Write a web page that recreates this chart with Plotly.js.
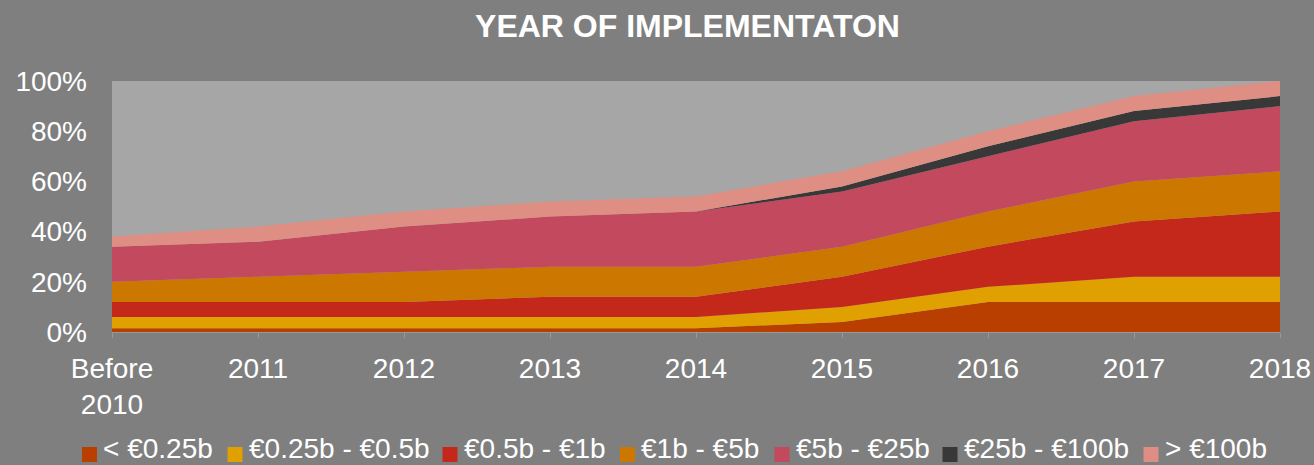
<!DOCTYPE html>
<html>
<head>
<meta charset="utf-8">
<script src="https://cdn.plot.ly/plotly-3.0.1.min.js"></script>
<style>html,body{margin:0;padding:0;background:#7f7f7f;}#chart{width:1314px;height:465px;}</style>
</head>
<body>
<div id="chart"></div>
<script>
var categories = ["Before<br>2010", "2011", "2012", "2013", "2014", "2015", "2016", "2017", "2018"];
var seriesNames = ["< €0.25b", "€0.25b - €0.5b", "€0.5b - €1b", "€1b - €5b", "€5b - €25b", "€25b - €100b", "> €100b"];
var s1 = [1.5, 1.5, 1.5, 1.5, 1.5, 4, 12, 12, 12];
var s2 = [4.5, 4.5, 4.5, 4.5, 4.5, 6, 6, 10, 10];
var s3 = [6, 6, 6, 8, 8, 12, 16, 22, 26];
var s4 = [8, 10, 12, 12, 12, 12, 14, 16, 16];
var s5 = [14, 14, 18, 20, 22, 22, 22, 24, 26];
var s6 = [0, 0, 0, 0, 0, 2, 4, 4, 4];
var s7 = [4, 6, 6, 6, 6, 6, 6, 6, 6];
var yTickVals = [0, 20, 40, 60, 80, 100];
var yTickText = ["0%", "20%", "40%", "60%", "80%", "100%"];

var colors = ["#b83f00", "#e0a000", "#c4281b", "#cc7700", "#c2495e", "#383838", "#df8e84"];
var series = [s1, s2, s3, s4, s5, s6, s7];
var xIdx = categories.map(function(_, i){ return i; });

// plot area geometry in pixels (for the hand-laid legend)
var PL = 112, PR = 1280, PT = 81, PB = 332;
function px2paperX(px){ return (px - PL) / (PR - PL); }
function px2paperY(py){ return (PB - py) / (PB - PT); }
var legendLeft = [82, 227.5, 442.5, 620, 774.5, 942.5, 1143.5];
var legendBoxSize = 15, legendBoxTop = 447, legendTextGap = 20, legendTextBottom = 465;

var traces = [];
series.forEach(function(s, k){
  traces.push({
    x: xIdx, y: s, type: "scatter", mode: "none", stackgroup: "one",
    fillcolor: colors[k], line: {width: 0}, showlegend: false, hoverinfo: "skip",
    name: seriesNames[k]
  });
});

var shapes = [], annotations = [];
seriesNames.forEach(function(n, k){
  shapes.push({
    type: "rect", xref: "paper", yref: "paper", layer: "above",
    x0: px2paperX(legendLeft[k]), x1: px2paperX(legendLeft[k] + legendBoxSize),
    y0: px2paperY(legendBoxTop + legendBoxSize), y1: px2paperY(legendBoxTop),
    fillcolor: colors[k], line: {width: 0}
  });
  annotations.push({
    xref: "paper", yref: "paper", x: px2paperX(legendLeft[k] + legendTextGap), y: px2paperY(legendTextBottom),
    xanchor: "left", yanchor: "bottom", showarrow: false, text: n, borderpad: 0,
    font: {size: 28, color: "#ffffff", family: "Liberation Sans, Arial, sans-serif"}
  });
});

var layout = {
  width: 1314, height: 465,
  paper_bgcolor: "#7f7f7f", plot_bgcolor: "#a6a6a6",
  margin: {l: 112, r: 34, t: 81, b: 133},
  font: {family: "Liberation Sans, Arial, sans-serif", color: "#ffffff", size: 28},
  title: {text: "<b>YEAR OF IMPLEMENTATON</b>", x: 0.5232, xanchor: "center", y: 0.944, yanchor: "middle",
          font: {size: 32, color: "#ffffff", family: "Liberation Sans, Arial, sans-serif"}},
  xaxis: {
    range: [0, 8], tickvals: xIdx, ticktext: categories, showgrid: false, zeroline: false,
    showline: true, linecolor: "#999999", linewidth: 1,
    ticks: "outside", ticklen: 5, tickcolor: "#999999", ticklabelstandoff: 6,
    tickfont: {size: 28, color: "#ffffff"}, fixedrange: true
  },
  yaxis: {
    range: [0, 100], tickvals: yTickVals, ticktext: yTickText, showgrid: false, zeroline: false,
    showline: false, ticks: "", ticklabelstandoff: 24,
    tickfont: {size: 28, color: "#ffffff"}, fixedrange: true
  },
  shapes: shapes,
  annotations: annotations,
  showlegend: false
};
Plotly.newPlot("chart", traces, layout, {displayModeBar: false, staticPlot: true});
</script>
</body>
</html>
